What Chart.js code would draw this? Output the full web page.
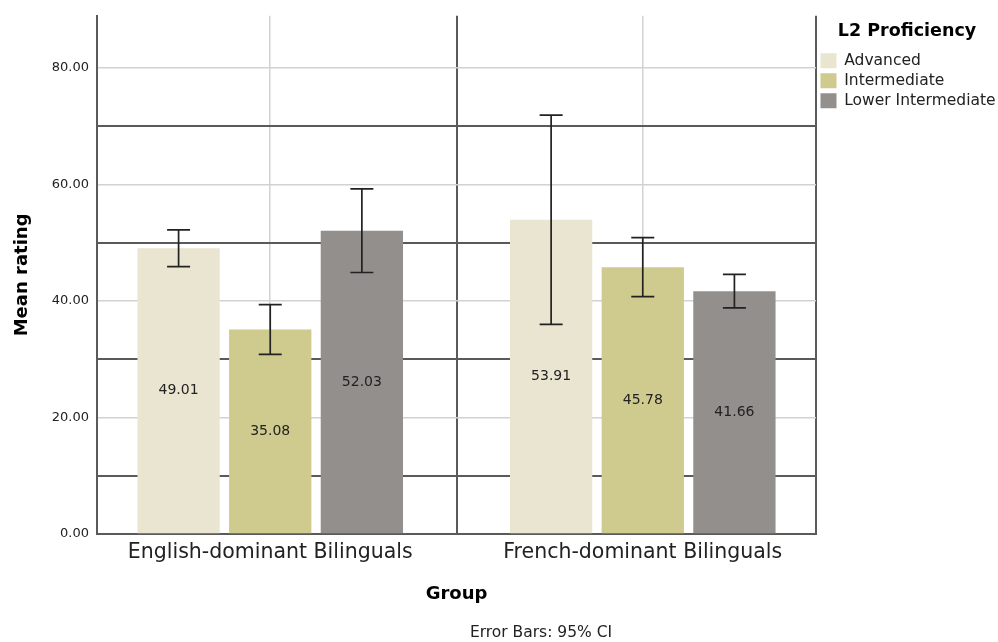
<!DOCTYPE html>
<html>
<head>
<meta charset="utf-8">
<script src="https://cdn.jsdelivr.net/npm/chart.js@4.4.0/dist/chart.umd.min.js"></script>
<style>
  body { margin: 0; background: #fff; }
  #wrap { width: 998px; height: 642px; }
</style>
</head>
<body>
<div id="wrap"><canvas id="chart" width="998" height="642"></canvas></div>
<script>
// data
const groups = ['English-dominant Bilinguals', 'French-dominant Bilinguals'];
const levels = ['Advanced', 'Intermediate', 'Lower Intermediate'];
const advanced = [49.01, 53.91];
const intermediate = [35.08, 45.78];
const lowerInt = [52.03, 41.66];
// 95% CI [low, high] per group
const advancedCI = [[45.86, 52.16], [35.97, 71.85]];
const intermediateCI = [[30.82, 39.34], [40.72, 50.84]];
const lowerIntCI = [[44.86, 59.20], [38.79, 44.53]];
const yTicks = [0, 10, 20, 30, 40, 50, 60, 70, 80];

const colors = ['#eae5d0', '#cfca8e', '#938f8d'];
const series = [advanced, intermediate, lowerInt];
const cis = [advancedCI, intermediateCI, lowerIntCI];

Chart.defaults.font.family = "'DejaVu Sans', sans-serif";
Chart.defaults.color = '#222';

const dark = '#5a5a5a';
const light = '#d2d2d2';

// error bars + value labels
const errorBars = {
  id: 'errorBars',
  afterDatasetsDraw(chart) {
    const { ctx, scales: { y } } = chart;
    ctx.save();
    chart.data.datasets.forEach((ds, di) => {
      const meta = chart.getDatasetMeta(di);
      meta.data.forEach((bar, i) => {
        const [lo, hi] = cis[di][i];
        const yl = y.getPixelForValue(lo);
        const yh = y.getPixelForValue(hi);
        ctx.strokeStyle = '#222';
        ctx.lineWidth = 1.7;
        ctx.beginPath();
        ctx.moveTo(bar.x, yl); ctx.lineTo(bar.x, yh);
        ctx.moveTo(bar.x - 11.5, yl); ctx.lineTo(bar.x + 11.5, yl);
        ctx.moveTo(bar.x - 11.5, yh); ctx.lineTo(bar.x + 11.5, yh);
        ctx.stroke();

        ctx.fillStyle = '#222';
        ctx.font = "14px 'DejaVu Sans', sans-serif";
        ctx.textAlign = 'center';
        ctx.textBaseline = 'middle';
        ctx.fillText(series[di][i].toFixed(2), bar.x, (bar.y + bar.base) / 2);
      });
    });
    ctx.restore();
  },
  afterDraw(chart) {
    const { ctx } = chart;
    ctx.save();
    ctx.fillStyle = '#222';
    ctx.font = "15.5px 'DejaVu Sans', sans-serif";
    ctx.textAlign = 'center';
    ctx.textBaseline = 'middle';
    ctx.fillText('Error Bars: 95% CI', 541, 633);
    ctx.restore();
  }
};

new Chart(document.getElementById('chart'), {
  type: 'bar',
  data: {
    datasets: levels.map((name, k) => ({
      label: name,
      data: series[k].map((v, i) => ({ x: i + 1, y: v })),
      backgroundColor: colors[k],
      borderWidth: 0,
      categoryPercentage: 1.587,
      barPercentage: 0.898
    }))
  },
  options: {
    responsive: false,
    animation: false,
    layout: { padding: { top: 13, left: 0, right: 0, bottom: 30 } },
    scales: {
      x: {
        type: 'linear',
        offset: false,
        min: 0.535,
        max: 2.465,
        afterBuildTicks: axis => {
          axis.ticks = [axis.min, 1, 1.5, 2, axis.max].map(v => ({ value: v }));
        },
        afterFit: axis => { axis.height = 78; },
        ticks: {
          autoSkip: false,
          maxRotation: 0,
          padding: 6,
          color: '#222',
          font: { size: 20.5 },
          callback: v => (Number.isInteger(v) && groups[v - 1]) ? groups[v - 1] : ''
        },
        grid: {
          offset: false,
          drawTicks: false,
          color: c => (c.tick && (c.tick.value === 1 || c.tick.value === 2)) ? light : dark,
          lineWidth: c => (c.tick && (c.tick.value === 1 || c.tick.value === 2)) ? 1.5 : 2
        },
        border: { color: dark, width: 2 },
        title: {
          display: true,
          text: 'Group',
          color: '#000',
          font: { size: 18, weight: 'bold' },
          padding: { top: 0, bottom: 7 }
        }
      },
      y: {
        min: 0,
        max: 88.9,
        afterBuildTicks: axis => {
          axis.ticks = yTicks.map(v => ({ value: v }));
        },
        afterFit: axis => { axis.width = 97; },
        ticks: {
          autoSkip: false,
          padding: 8,
          color: '#222',
          font: { size: 13 },
          callback: v => v % 20 === 0 ? v.toFixed(2) : ''
        },
        grid: {
          drawTicks: false,
          color: c => (c.tick.value % 20 === 0 ? light : dark),
          lineWidth: c => (c.tick.value % 20 === 0 ? 1.5 : 2)
        },
        border: { color: dark, width: 2 },
        title: {
          display: true,
          text: 'Mean rating',
          color: '#000',
          font: { size: 18, weight: 'bold' },
          padding: { top: 12, bottom: 0 }
        }
      }
    },
    plugins: {
      legend: {
        position: 'right',
        align: 'start',
        maxWidth: 182,
        title: {
          display: true,
          text: 'L2 Proficiency',
          color: '#000',
          font: { size: 17.5, weight: 'bold' },
          padding: { top: 10, bottom: 4.5 }
        },
        labels: {
          boxWidth: 16,
          boxHeight: 15,
          padding: 4.5,
          color: '#222',
          font: { size: 15.5 }
        }
      },
      tooltip: { enabled: false }
    }
  },
  plugins: [errorBars]
});
</script>
</body>
</html>
